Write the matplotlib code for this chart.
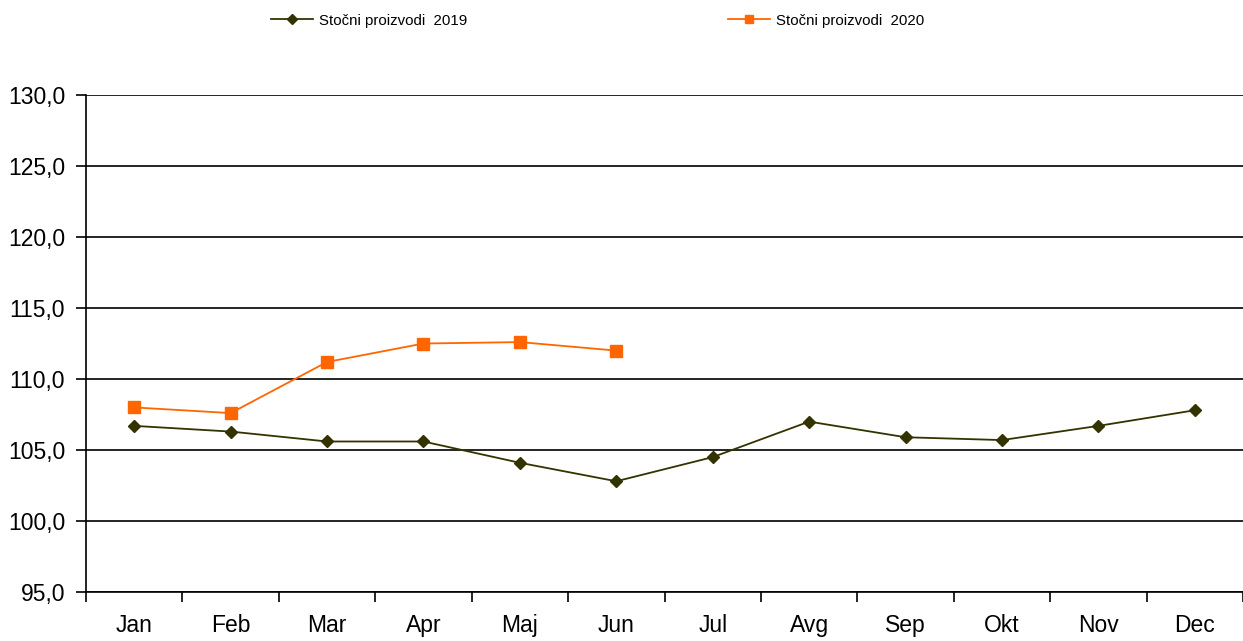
import matplotlib
matplotlib.use("Agg")
from matplotlib import pyplot as plt
import numpy as np

plt.rcParams['font.family'] = ['Liberation Sans', 'DejaVu Sans']

months = ["Jan", "Feb", "Mar", "Apr", "Maj", "Jun", "Jul", "Avg", "Sep", "Okt", "Nov", "Dec"]
values_2019 = [106.7, 106.3, 105.6, 105.6, 104.1, 102.8, 104.5, 107.0, 105.9, 105.7, 106.7, 107.8]
values_2020 = [108.0, 107.6, 111.2, 112.5, 112.6, 112.0]
label_2019 = "Stočni proizvodi  2019"
label_2020 = "Stočni proizvodi  2020"

fig = plt.figure(figsize=(12.43, 6.41), dpi=100)
ax = fig.add_axes([0.0692, 0.0764, 0.9308, 0.7754])

x = np.arange(len(months))
ax.plot(x, values_2019, color="#333300", lw=1.3, marker="D", markersize=6.5, label=label_2019)
ax.plot(x[:len(values_2020)], values_2020, color="#FF6600", lw=1.3, marker="s", markersize=8, label=label_2020)

ax.set_xlim(-0.5, 11.5)
ax.set_ylim(95, 130)
ax.set_yticks(np.arange(95, 131, 5))
ax.set_yticklabels([f"{v:.1f}".replace(".", ",") for v in np.arange(95, 131, 5)])
ax.yaxis.grid(True, color="black", lw=1.2)
ax.set_axisbelow(True)

# ticks on boundaries, labels centred
ax.set_xticks(np.arange(-0.5, 12, 1))
ax.set_xticklabels([])
ax.set_xticks(x, minor=True)
ax.set_xticklabels(months, minor=True)
ax.tick_params(axis="x", which="minor", length=0, pad=16, labelsize=16.5)
ax.tick_params(axis="x", which="major", length=7, width=1.2)
ax.tick_params(axis="y", length=7, width=1.2, pad=8, labelsize=16.5)

for s in ["top", "right"]:
    ax.spines[s].set_visible(False)
for s in ["left", "bottom"]:
    ax.spines[s].set_linewidth(1.2)

fig.legend(loc="upper center", bbox_to_anchor=(0.4807, 1.0), ncol=2, frameon=False,
           fontsize=10.8, columnspacing=17.4, handlelength=2.8, handletextpad=0.4,
           markerscale=0.75)

fig.savefig("out.png", dpi=100)
